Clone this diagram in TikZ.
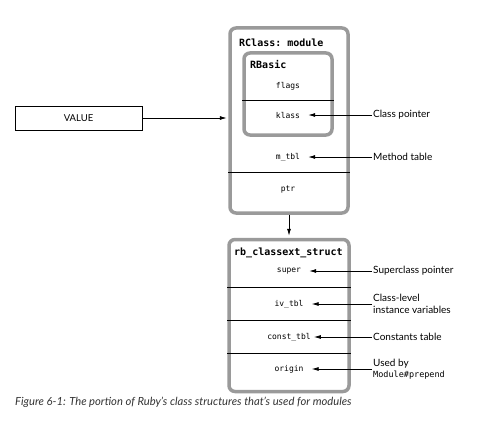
\documentclass[tikz,border=0pt]{standalone}
\usepackage{fontspec}
\setmainfont{Lato}
\setmonofont{DejaVu Sans Mono}
\usetikzlibrary{arrows.meta}
\definecolor{boxgray}{HTML}{9A9A9A}
\tikzset{
  struct/.style={draw=boxgray, line width=3.5pt, rounded corners=6pt, fill=white},
  field/.style={font=\ttfamily\fontsize{8}{9}\selectfont, inner xsep=8pt, inner ysep=2pt},
  title/.style={font=\ttfamily\bfseries\fontsize{10}{11}\selectfont, anchor=west, inner sep=0pt},
  label/.style={font=\fontsize{10}{11.5}\selectfont, anchor=west, align=left, inner sep=1pt},
  divider/.style={line width=0.8pt, black},
  arr/.style={line width=0.8pt, -{Latex[length=7pt,width=4pt]}},
}
\begin{document}
\begin{tikzpicture}[x=1pt,y=-1pt]
\useasboundingbox (0,0) rectangle (479,428);
% outer RClass box
\node[struct, minimum width=118pt, minimum height=185pt] (rclass) at (289,120.5) {};
\node[title] (rclasst) at (239,43) {RClass: module};
\node[struct, minimum width=88pt, minimum height=82pt] (rbasic) at (288,94) {};
\node[title] (rbasict) at (250,65) {RBasic};
\node[field] (flags) at (288,86) {flags};
\node[field] (klass) at (288,115) {klass};
\node[field] (mtbl) at (288,157) {m\_tbl};
\node[field] (ptr) at (288,190) {ptr};
\coordinate (d1) at (0,100);
\coordinate (d2) at (0,172);
\draw[divider] (rbasic.west |- d1) -- (rbasic.east |- d1);
\draw[divider] (rclass.west |- d2) -- (rclass.east |- d2);
% classext box
\node[struct, minimum width=120pt, minimum height=152pt] (ext) at (289,315.5) {};
\node[title] (extt) at (234,253) {rb\_classext\_struct};
\node[field] (super) at (289,271) {super};
\node[field] (ivtbl) at (289,304) {iv\_tbl};
\node[field, inner xsep=3pt] (consttbl) at (289,337) {const\_tbl};
\node[field] (origin) at (289,369) {origin};
\coordinate (e1) at (0,287);
\coordinate (e2) at (0,320);
\coordinate (e3) at (0,353);
\foreach \c in {e1,e2,e3}
  \draw[divider] (ext.west |- \c) -- (ext.east |- \c);
% VALUE
\node[draw, line width=0.7pt, minimum width=127pt, minimum height=24pt, inner sep=0pt,
      font=\fontsize{9.5}{10}\selectfont] (value) at (78.5,118) {VALUE};
\draw[arr] (value.east) -- ([xshift=-1.5pt]rclass.west |- value.east);
\draw[arr] (rclass.south) -- ([yshift=2pt]ext.north);
% labels
\node[label] (lclass) at (372,115) {Class pointer};
\node[label] (lmethod) at (372,157) {Method table};
\node[label] (lsuper) at (372,271) {Superclass pointer};
\node[label] (liv) at (372,304) {Class-level\\instance variables};
\node[label] (lconst) at (372,337) {Constants table};
\node[label] (lorigin) at (372,369) {Used by\\{\ttfamily\fontsize{8.5}{9}\selectfont Module\#prepend}};
\draw[arr] (lclass.west) -- (klass.east);
\draw[arr] (lmethod.west) -- (mtbl.east);
\draw[arr] (lsuper.west) -- (super.east);
\draw[arr] (liv.west) -- (ivtbl.east);
\draw[arr] (lconst.west) -- (consttbl.east);
\draw[arr] (lorigin.west) -- (origin.east);
% caption
\node[anchor=west, inner sep=0pt, text=black!80, font=\itshape\fontsize{11.2}{13}\selectfont] (caption) at (15,402)
  {Figure 6-1: The portion of Ruby’s class structures that’s used for modules};
\end{tikzpicture}
\end{document}
